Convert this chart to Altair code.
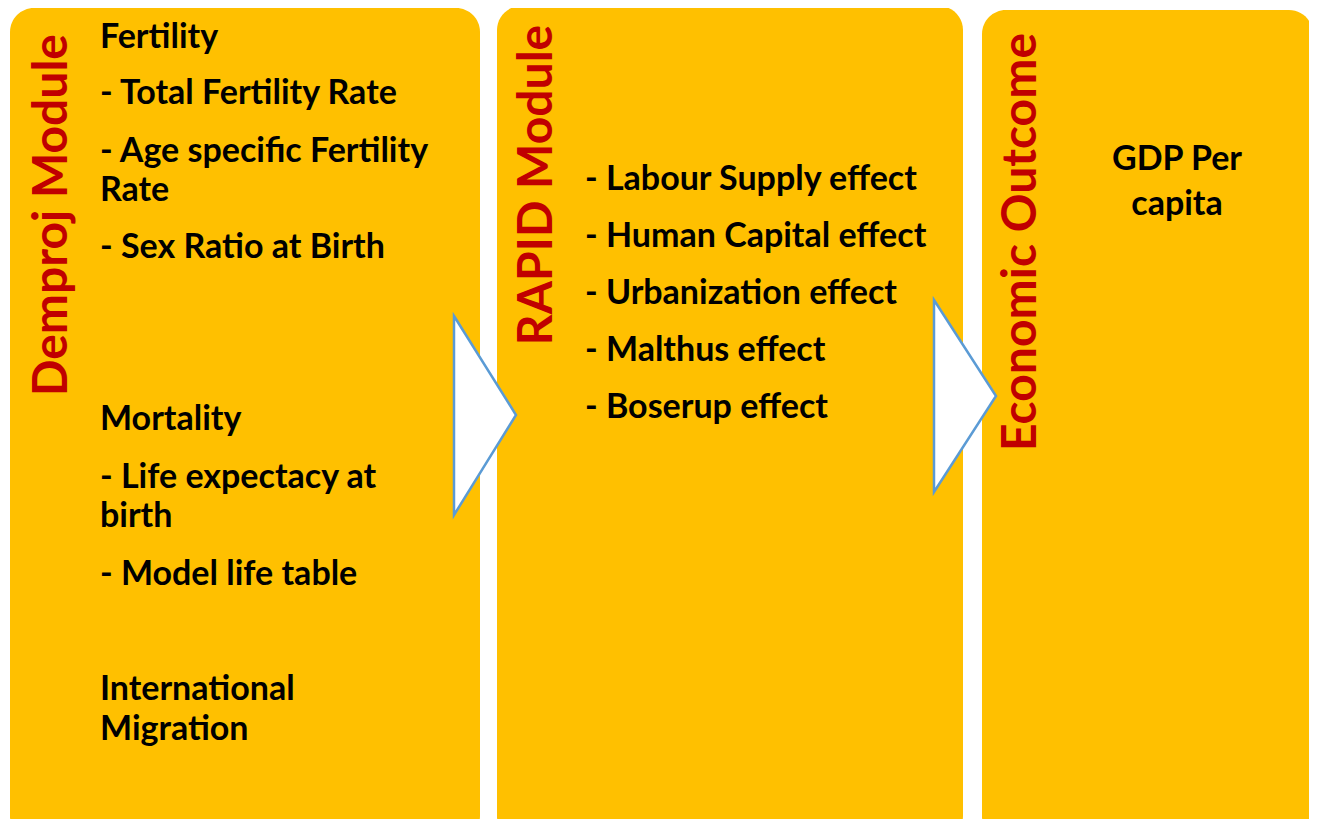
import altair as alt
import pandas as pd

# ---- diagram content ----
box_ids = ["demproj", "rapid", "outcome"]
box_x0 = [10, 497, 982]
box_x1 = [480, 963, 1313]
box_y0 = [8, 6, 10]
box_y1 = [840, 840, 840]

titles = ["Demproj Module", "RAPID Module", "Economic Outcome"]
title_x = [53, 538, 1022]
title_y = [215, 185, 242]

body_lines = [
    "Fertility", "- Total Fertility Rate", "- Age specific Fertility", "Rate",
    "- Sex Ratio at Birth", "Mortality", "- Life expectacy at", "birth",
    "- Model life table", "International", "Migration",
    "- Labour Supply effect", "- Human Capital effect", "- Urbanization effect",
    "- Malthus effect", "- Boserup effect",
]
body_x = [100] * 11 + [585] * 5
body_y = [38, 94, 152, 191, 248, 420, 478, 517, 575, 690, 730,
          180, 237, 294, 351, 408]

center_lines = ["GDP Per", "capita"]
center_x = [1177, 1177]
center_y = [160, 205]

arrow_id = ["a1", "a1", "a2", "a2"]
arrow_x = [454, 516, 934, 996]
arrow_top = [316, 415, 300, 396]
arrow_bot = [515, 415, 492, 396]

# ---- tables ----
boxes = pd.DataFrame({"id": box_ids, "x0": box_x0, "x1": box_x1, "y0": box_y0, "y1": box_y1})
tdf = pd.DataFrame({"t": titles, "x": title_x, "y": title_y})
bdf = pd.DataFrame({"t": body_lines, "x": body_x, "y": body_y})
cdf = pd.DataFrame({"t": center_lines, "x": center_x, "y": center_y})
adf = pd.DataFrame({"id": arrow_id, "x": arrow_x, "top": arrow_top, "bot": arrow_bot})

W, H = 1301, 811
xs = alt.Scale(domain=[8, 8 + W], nice=False, zero=False)
ys = alt.Scale(domain=[8, 8 + H], nice=False, zero=False, reverse=True)
FONT = "Lato"

rects = alt.Chart(boxes).mark_rect(color="#FFC000", cornerRadius=24).encode(
    x=alt.X("x0:Q", scale=xs, axis=None),
    x2="x1:Q",
    y=alt.Y("y0:Q", scale=ys, axis=None),
    y2="y1:Q",
)

arrows = alt.Chart(adf).mark_area(fill="white", stroke="#5B9BD5", strokeWidth=2.5,
                                  fillOpacity=1).encode(
    x=alt.X("x:Q", scale=xs, axis=None),
    y=alt.Y("top:Q", scale=ys, axis=None),
    y2="bot:Q",
    detail="id:N",
)

title_text = alt.Chart(tdf).mark_text(
    angle=270, align="center", baseline="middle", font=FONT, fontWeight="bold",
    fontSize=48, color="#C00000",
).encode(
    x=alt.X("x:Q", scale=xs, axis=None),
    y=alt.Y("y:Q", scale=ys, axis=None),
    text="t:N",
)

body_text = alt.Chart(bdf).mark_text(
    align="left", baseline="middle", font=FONT, fontWeight="bold",
    fontSize=34, color="#000000",
).encode(
    x=alt.X("x:Q", scale=xs, axis=None),
    y=alt.Y("y:Q", scale=ys, axis=None),
    text="t:N",
)

center_text = alt.Chart(cdf).mark_text(
    align="center", baseline="middle", font=FONT, fontWeight="bold",
    fontSize=34, color="#000000",
).encode(
    x=alt.X("x:Q", scale=xs, axis=None),
    y=alt.Y("y:Q", scale=ys, axis=None),
    text="t:N",
)

chart = alt.layer(rects, arrows, title_text, body_text, center_text).properties(
    width=W, height=H, padding=0, autosize=alt.AutoSizeParams(type="none"),
    background="white",
).configure_view(stroke=None)

chart.save("out.html", embed_options={"renderer": "svg", "actions": False})
